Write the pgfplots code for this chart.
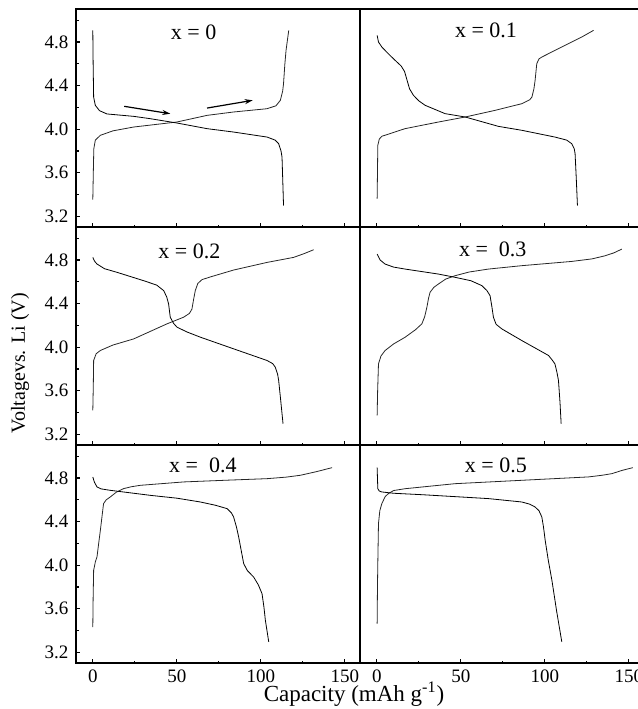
\documentclass[border=0pt]{standalone}
\usepackage{fontspec}
\setmainfont{Liberation Serif}
\usepackage{pgfplots}
\pgfplotsset{compat=1.18}
\usepgfplotslibrary{groupplots}
\usetikzlibrary{arrows.meta}

\pgfplotsset{
  panel/.style={
    scale only axis, width=142pt, height=109pt,
    xmin=-10, xmax=159, ymin=3.1, ymax=5.1,
    xtick={0,50,100,150}, minor xtick={25,75,125},
    ytick={3.2,3.6,4.0,4.4,4.8}, minor ytick={3.4,3.8,4.2,4.6,5.0},
    tick align=inside, tick pos=left,
    major tick length=2.2pt, minor tick length=1.3pt,
    tick style={black, line width=0.6pt},
    axis line style={line width=0.9pt},
    ticklabel style={font=\fontsize{9.5}{11}\selectfont},
    xticklabel style={inner sep=0pt, anchor=north, yshift=-3.3pt},
    yticklabel style={inner sep=0pt, anchor=east, xshift=-3.6pt},
    /pgf/number format/assume math mode=true,
    yticklabel style={/pgf/number format/fixed, /pgf/number format/fixed zerofill, /pgf/number format/precision=1},
    cycle list={{black!85, no markers, line width=0.65pt, smooth, tension=0.4}},
  },
}
\tikzset{ttl/.style={font=\fontsize{11}{13}\selectfont}}

\begin{document}
\begin{tikzpicture}
\begin{groupplot}[
  group style={group size=2 by 3, horizontal sep=0pt, vertical sep=0pt,
    xticklabels at=edge bottom, yticklabels at=edge left},
  panel]

% x = 0
\nextgroupplot
\addplot coordinates {(0,3.353) (0.3,3.6) (0.6,3.82) (1.5,3.9) (4.5,3.944) (12,3.985) (24.3,4.02) (50,4.066) (68,4.127) (83.8,4.158) (103.7,4.188) (109,4.215) (111.6,4.265) (113,4.35) (113.5,4.418) (114.3,4.6) (115,4.724) (116.6,4.907)};
\addplot coordinates {(0,4.907) (0.2,4.6) (0.5,4.295) (1.5,4.219) (4,4.17) (8.4,4.14) (24.3,4.118) (34,4.097) (50,4.057) (68,4.005) (83.8,3.974) (103.7,3.928) (108.5,3.9) (110.6,3.867) (112,3.8) (112.6,3.745) (113,3.55) (113.5,3.3)};
\draw[line width=0.6pt, -{Stealth[length=4pt,width=2.5pt]}] (axis cs:18.7,4.21) -- (axis cs:46.1,4.142);
\draw[line width=0.6pt, -{Stealth[length=4pt,width=2.5pt]}] (axis cs:68,4.194) -- (axis cs:95.2,4.265);
\node[ttl] at (axis cs:60,4.89) {x = 0};

% x = 0.1
\nextgroupplot[ytick=\empty, minor ytick=\empty]
\addplot coordinates {(0.2,3.363) (0.4,3.6) (0.6,3.852) (1.5,3.91) (3,3.935) (16.8,4.005) (36.7,4.066) (52.6,4.112) (70.4,4.173) (86.3,4.234) (91,4.27) (92.3,4.295) (93.5,4.37) (94.2,4.448) (95.2,4.601) (96.5,4.645) (98.2,4.662) (110,4.754) (122,4.846) (129,4.907)};
\addplot coordinates {(0.2,4.861) (1,4.8) (3,4.754) (7,4.69) (10.9,4.632) (14.5,4.58) (16.5,4.53) (18,4.45) (19.5,4.37) (21.8,4.311) (25,4.26) (28.8,4.219) (40.6,4.143) (52.6,4.112) (72.4,4.026) (86.3,3.99) (106,3.928) (113,3.9) (116,3.867) (117.5,3.82) (118,3.776) (118.7,3.55) (119.4,3.3)};
\node[ttl] at (axis cs:65,4.91) {x = 0.1};

% x = 0.2
\nextgroupplot
\addplot coordinates {(0,3.42) (0.3,3.65) (0.5,3.878) (2,3.94) (4.5,3.97) (12,4.02) (24.3,4.076) (44.1,4.214) (54,4.275) (57.5,4.31) (59,4.35) (60,4.44) (61,4.52) (62.5,4.585) (65,4.62) (70,4.645) (83.8,4.708) (103.7,4.778) (119.5,4.824) (126,4.86) (131.4,4.894)};
\addplot coordinates {(0,4.824) (1,4.79) (2.5,4.763) (7,4.72) (14.4,4.687) (30.3,4.61) (38,4.57) (42.2,4.519) (44,4.46) (45.1,4.397) (46.1,4.275) (48,4.22) (50.1,4.184) (56,4.14) (64,4.092) (83.8,3.985) (103.7,3.878) (107,3.85) (108.6,3.817) (110,3.75) (110.6,3.695) (111.9,3.5) (113.2,3.298)};
\node[ttl] at (axis cs:57.5,4.88) {x = 0.2};

% x = 0.3
\nextgroupplot[ytick=\empty, minor ytick=\empty]
\addplot coordinates {(0.2,3.374) (0.5,3.6) (1,3.847) (2.5,3.92) (4.9,3.969) (10,4.03) (16.8,4.091) (23,4.16) (26.8,4.214) (28.5,4.28) (29.8,4.366) (30.8,4.45) (31.7,4.504) (34,4.55) (36.7,4.58) (41,4.625) (46.6,4.656) (55,4.69) (66.5,4.717) (86.3,4.748) (116,4.787) (128,4.81) (135.9,4.839) (141,4.865) (145.8,4.9)};
\addplot coordinates {(0.2,4.854) (2,4.8) (4.9,4.763) (10,4.735) (16.8,4.717) (36.7,4.671) (46.6,4.641) (56,4.61) (62.5,4.565) (65.5,4.52) (67.4,4.473) (68.5,4.37) (69.4,4.275) (71,4.21) (74.4,4.168) (86.3,4.061) (102.2,3.924) (104.5,3.88) (106,3.847) (107.2,3.77) (108.1,3.695) (109,3.5) (109.7,3.298)};
\node[ttl] at (axis cs:69,4.9) {x =\ \ 0.3};

% x = 0.4
\nextgroupplot
\addplot coordinates {(0,3.433) (0.2,3.7) (0.5,3.953) (1.5,4.03) (2.5,4.076) (3.5,4.2) (4.5,4.32) (5.5,4.45) (6.4,4.565) (8,4.6) (10.4,4.626) (14,4.67) (18.4,4.703) (23,4.72) (28.3,4.733) (54.1,4.764) (80,4.78) (103.7,4.794) (115,4.808) (123.5,4.825) (133,4.858) (142.4,4.895)};
\addplot coordinates {(0,4.809) (1,4.76) (2.5,4.718) (5,4.7) (10.4,4.687) (34.2,4.641) (50,4.615) (64,4.58) (73,4.55) (79.9,4.519) (82.5,4.48) (83.8,4.442) (85.5,4.35) (86.8,4.259) (88.5,4.12) (89.8,4.014) (92,3.95) (95.7,3.892) (98.5,3.82) (100.7,3.739) (101.8,3.62) (102.7,3.494) (104.7,3.296)};
\node[ttl] at (axis cs:65.5,4.92) {x =\ \ 0.4};

% x = 0.5
\nextgroupplot[ytick=\empty, minor ytick=\empty]
\addplot coordinates {(0.2,3.464) (0.4,3.8) (0.6,4.015) (0.8,4.2) (1,4.382) (1.8,4.5) (3,4.565) (5,4.63) (6.9,4.657) (10,4.685) (16.9,4.702) (46.6,4.748) (86.3,4.779) (126,4.81) (134,4.825) (139.9,4.84) (146,4.87) (152.4,4.895)};
\addplot coordinates {(0.2,4.895) (0.4,4.8) (0.6,4.702) (1.5,4.68) (3,4.672) (10,4.66) (26.8,4.647) (66.5,4.611) (86.3,4.58) (91,4.56) (94.2,4.534) (96.5,4.5) (98.2,4.443) (99.2,4.35) (100.2,4.229) (102,4.05) (104.2,3.862) (107,3.58) (110.1,3.296)};
\node[ttl] at (axis cs:70.9,4.92) {x = 0.5};
\end{groupplot}

\node[rotate=90, font=\fontsize{10}{12}\selectfont] at ([shift={(-28pt,-13.5pt)}]group c1r2.west) {Voltagevs. Li (V)};
\node[font=\fontsize{11.5}{13}\selectfont, inner sep=0pt, anchor=base] at ([shift={(139pt,-19.2pt)}]group c1r3.south west) {Capacity (mAh g\textsuperscript{-1})};

\pgfresetboundingbox
\useasboundingbox ([shift={(-38pt,-22.85pt)}]group c1r3.south west) rectangle ([shift={(281pt,331.65pt)}]group c1r3.south west);
\end{tikzpicture}
\end{document}
